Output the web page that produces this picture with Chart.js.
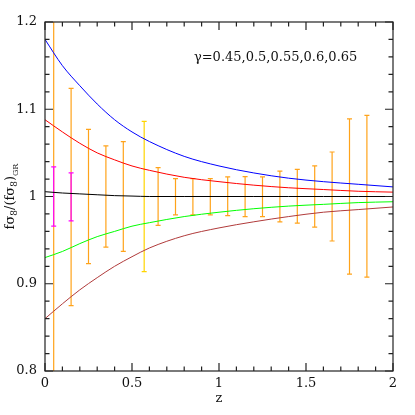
<!DOCTYPE html>
<html>
<head>
<meta charset="utf-8">
<script src="https://cdn.jsdelivr.net/npm/chart.js@4.4.0/dist/chart.umd.min.js"></script>
<style>
    html, body { margin: 0; padding: 0; background: #fff; }
    #wrap { width: 415px; height: 415px; }
</style>
</head>
<body>
<div id="wrap"><canvas id="chart" width="415" height="415"></canvas></div>
<script>
'use strict';

// redshift grid for the model curves
const zGrid = [0, 0.1, 0.2, 0.3, 0.4, 0.5, 0.6, 0.8, 1.0, 1.2, 1.4, 1.6, 1.8, 2.0];

// f sigma8 / (f sigma8)_GR for each gamma
const gamma045 = [1.180, 1.150, 1.127, 1.106, 1.088, 1.074, 1.063, 1.046, 1.035, 1.027, 1.021, 1.017, 1.014, 1.011];
const gamma050 = [1.088, 1.074, 1.061, 1.050, 1.042, 1.035, 1.030, 1.022, 1.017, 1.013, 1.010, 1.008, 1.006, 1.005];
const gamma055 = [1.0055, 1.004, 1.003, 1.002, 1.001, 1.0005, 1.0, 1.0, 1.0, 1.0, 1.0, 1.0, 1.0, 1.0];
const gamma060 = [0.930, 0.937, 0.946, 0.954, 0.960, 0.966, 0.970, 0.977, 0.982, 0.986, 0.989, 0.991, 0.993, 0.994];
const gamma065 = [0.860, 0.877, 0.893, 0.907, 0.920, 0.931, 0.941, 0.955, 0.964, 0.971, 0.977, 0.982, 0.985, 0.988];

const gammaLabels = ['0.45', '0.5', '0.55', '0.6', '0.65'];
const curveColors = ['#0000ff', '#ff0000', '#000000', '#00ff00', '#b03a3a'];

// forecast error bars (orange), one existing-like (yellow), two magenta
const errZ  = [0.05, 0.15, 0.25, 0.35, 0.45, 0.57, 0.65, 0.75, 0.85, 0.95, 1.05, 1.15, 1.25, 1.35, 1.45, 1.55, 1.65, 1.75, 1.85, 0.05, 0.15];
const errLo = [0.78, 0.875, 0.923, 0.942, 0.937, 0.914, 0.967, 0.979, 0.979, 0.979, 0.978, 0.977, 0.977, 0.971, 0.9695, 0.965, 0.949, 0.911, 0.9075, 0.966, 0.972];
const errHi = [1.22, 1.124, 1.077, 1.058, 1.063, 1.086, 1.033, 1.0205, 1.0205, 1.0205, 1.0224, 1.0228, 1.0224, 1.029, 1.031, 1.035, 1.051, 1.089, 1.093, 1.034, 1.027];
const errColor = ['#ffa31a', '#ffa31a', '#ffa31a', '#ffa31a', '#ffa31a', '#ffd500', '#ffa31a', '#ffa31a', '#ffa31a', '#ffa31a',
    '#ffa31a', '#ffa31a', '#ffa31a', '#ffa31a', '#ffa31a', '#ffa31a', '#ffa31a', '#ffa31a', '#ffa31a', '#ff00ff', '#ff00ff'];

const xTicks = [0, 0.5, 1, 1.5, 2];
const yTicks = [0.8, 0.9, 1, 1.1, 1.2];
const yTickLabels = ['0.8', '0.9', '1', '1.1', '1.2'];

const FONT = '"DejaVu Serif", serif';

function curve(vals) {
    return zGrid.map((z, i) => ({ x: z, y: vals[i] }));
}

const allCurves = [gamma045, gamma050, gamma055, gamma060, gamma065];

const errorBars = {
    id: 'errorBars',
    beforeDatasetsDraw(chart) {
        const { ctx, chartArea: a, scales: { x, y } } = chart;
        ctx.save();
        ctx.beginPath();
        ctx.rect(a.left, a.top, a.right - a.left, a.bottom - a.top);
        ctx.clip();
        ctx.lineWidth = 1.2;
        errZ.forEach((z, i) => {
            const px = x.getPixelForValue(z);
            const top = y.getPixelForValue(errHi[i]);
            const bot = y.getPixelForValue(errLo[i]);
            ctx.strokeStyle = errColor[i];
            ctx.beginPath();
            ctx.moveTo(px, top); ctx.lineTo(px, bot);
            ctx.moveTo(px - 2.5, top); ctx.lineTo(px + 2.5, top);
            ctx.moveTo(px - 2.5, bot); ctx.lineTo(px + 2.5, bot);
            ctx.stroke();
        });
        ctx.restore();
    }
};

const frameAndText = {
    id: 'frameAndText',
    afterDraw(chart) {
        const { ctx, chartArea: a, scales: { x, y } } = chart;
        ctx.save();
        ctx.strokeStyle = '#222';
        ctx.lineWidth = 1.2;
        ctx.strokeRect(a.left, a.top, a.right - a.left, a.bottom - a.top);

        ctx.beginPath();
        for (let i = 0; i <= 20; i++) {
            const px = x.getPixelForValue(i * 0.1);
            const len = i % 5 === 0 ? 8 : 4.5;
            ctx.moveTo(px, a.bottom); ctx.lineTo(px, a.bottom - len);
            ctx.moveTo(px, a.top); ctx.lineTo(px, a.top + len);
        }
        for (let i = 0; i <= 20; i++) {
            const py = y.getPixelForValue(0.8 + i * 0.02);
            const len = i % 5 === 0 ? 8 : 4.5;
            ctx.moveTo(a.left, py); ctx.lineTo(a.left + len, py);
            ctx.moveTo(a.right, py); ctx.lineTo(a.right - len, py);
        }
        ctx.stroke();

        // gamma annotation
        ctx.fillStyle = '#111';
        ctx.font = '13px ' + FONT;
        ctx.textAlign = 'left';
        ctx.textBaseline = 'alphabetic';
        ctx.fillText('\u03b3=' + gammaLabels.join(','), x.getPixelForValue(0.856), y.getPixelForValue(1.1557));

        // x title
        ctx.textAlign = 'center';
        ctx.fillText('z', x.getPixelForValue(1), 402);

        // y title with subscripts
        const parts = [
            ['f\u03c3', 13, 0], ['8', 9, 3], ['/(f\u03c3', 13, 0], ['8', 9, 3], [')', 13, 0], ['GR', 8, 4]
        ];
        let total = 0;
        parts.forEach(p => { ctx.font = p[1] + 'px ' + FONT; total += ctx.measureText(p[0]).width; });
        ctx.translate(14, (a.top + a.bottom) / 2);
        ctx.rotate(-Math.PI / 2);
        ctx.textAlign = 'left';
        let cx = -total / 2;
        parts.forEach(p => {
            ctx.font = p[1] + 'px ' + FONT;
            ctx.fillText(p[0], cx, p[2]);
            cx += ctx.measureText(p[0]).width;
        });
        ctx.restore();
    }
};

const canvasEl = document.getElementById('chart');

new Chart(canvasEl, {
    type: 'scatter',
    data: {
        datasets: allCurves.map((vals, i) => ({
            label: 'gamma=' + gammaLabels[i],
            data: curve(vals),
            showLine: true,
            borderColor: curveColors[i],
            borderWidth: 1,
            pointRadius: 0,
            cubicInterpolationMode: 'monotone',
            fill: false
        }))
    },
    options: {
        responsive: false,
        animation: false,
        layout: { padding: { top: 22, right: 22, bottom: 0, left: 0 } },
        plugins: {
            legend: { display: false },
            tooltip: { enabled: false }
        },
        scales: {
            x: {
                type: 'linear',
                min: 0,
                max: 2,
                afterFit: s => { s.height = 44; },
                afterBuildTicks: s => { s.ticks = xTicks.map(v => ({ value: v })); },
                grid: { display: false, drawTicks: false },
                border: { display: false },
                ticks: {
                    padding: 5,
                    color: '#111',
                    font: { family: FONT, size: 13 },
                    callback: v => String(v)
                }
            },
            y: {
                type: 'linear',
                min: 0.8,
                max: 1.2,
                afterFit: s => { s.width = 45; },
                afterBuildTicks: s => { s.ticks = yTicks.map(v => ({ value: v })); },
                grid: { display: false, drawTicks: false },
                border: { display: false },
                ticks: {
                    padding: 8,
                    color: '#111',
                    font: { family: FONT, size: 13 },
                    callback: (v, idx) => yTickLabels[idx]
                }
            }
        }
    },
    plugins: [errorBars, frameAndText]
});
</script>
</body>
</html>
